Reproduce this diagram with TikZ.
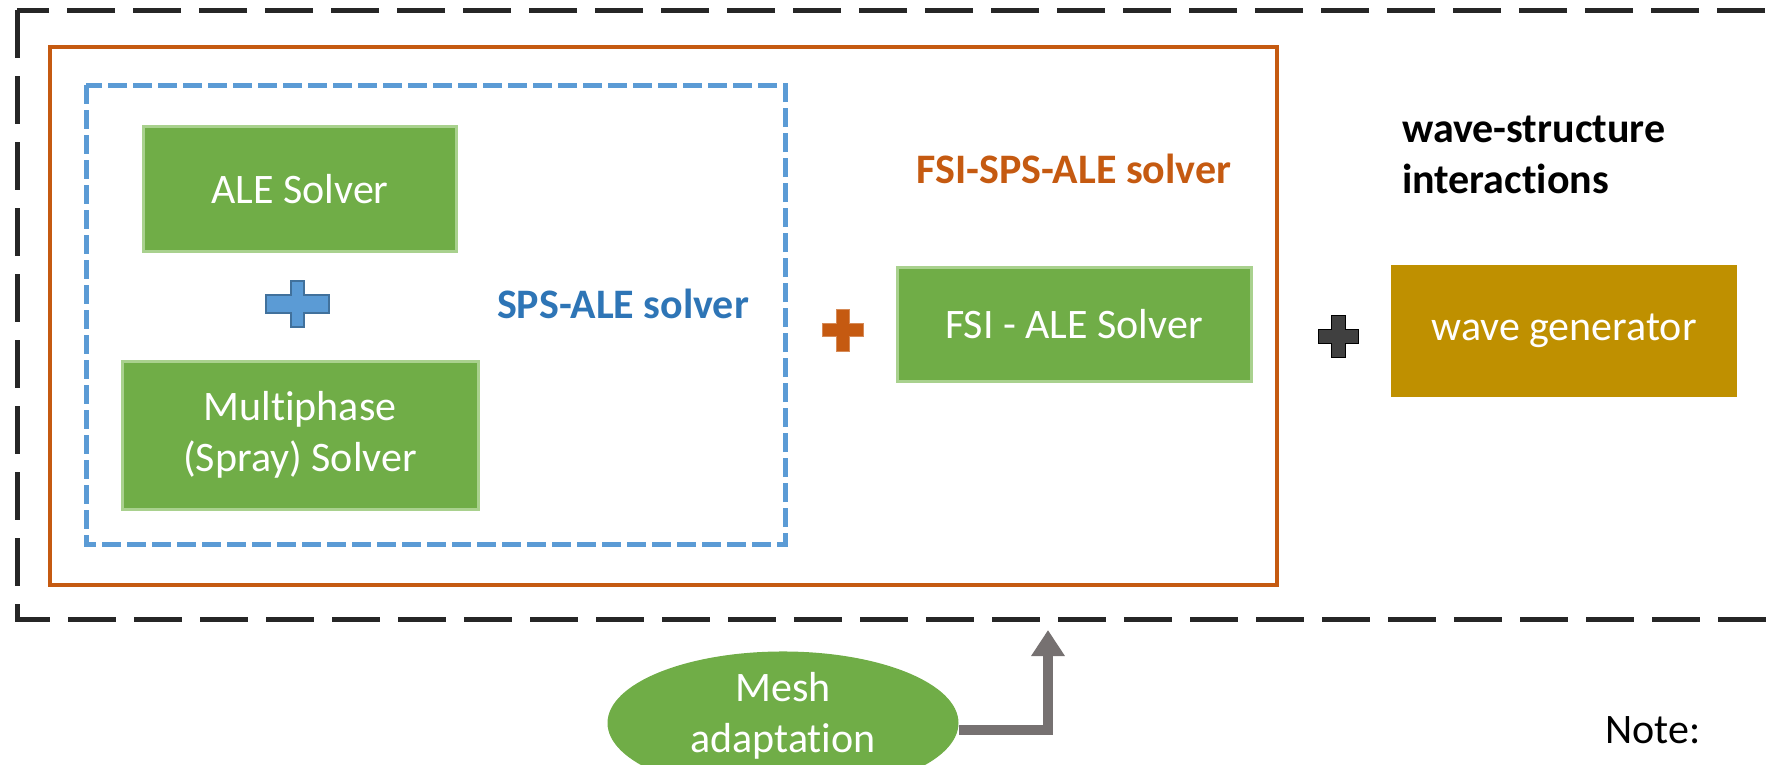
\documentclass[tikz,border=0pt]{standalone}
\usepackage{fontspec}
\setmainfont{Carlito}[Ligatures=NoCommon]
\usepackage{xcolor}
\usetikzlibrary{shapes.geometric,arrows.meta}

\definecolor{solvergreen}{HTML}{70AD47}
\definecolor{solveredge}{HTML}{A9D18E}
\definecolor{spsblue}{HTML}{5B9BD5}
\definecolor{spstext}{HTML}{2E75B6}
\definecolor{spsplusedge}{HTML}{41719C}
\definecolor{fsiorange}{HTML}{C55A11}
\definecolor{wavegold}{HTML}{BF9000}
\definecolor{adaptgray}{HTML}{767171}
\definecolor{plusdark}{HTML}{404040}
\definecolor{framedark}{HTML}{262626}

\newcommand{\labelfont}{\fontsize{42}{51}\selectfont}

% plus sign: style, centre, half width, half height, half bar (vertical), half bar (horizontal)
\newcommand{\plusmark}[6]{%
  \draw[#1, shift={(#2)}] (-#5,#4) -- (#5,#4) -- (#5,#6) -- (#3,#6) -- (#3,-#6)
    -- (#5,-#6) -- (#5,-#4) -- (-#5,-#4) -- (-#5,-#6) -- (-#3,-#6) -- (-#3,#6)
    -- (-#5,#6) -- cycle;}

\begin{document}
\begin{tikzpicture}[x=1pt,y=1pt]
\tikzstyle{every node}+=[inner sep=0pt]
\tikzset{
  solverbox/.style={draw=solveredge, line width=3pt, fill=solvergreen, text=white,
    font=\labelfont, align=center},
  tag/.style={font=\labelfont\bfseries, align=left},
  adaptarrow/.style={draw=adaptgray, line width=10pt,
    -{Triangle[width=32pt,length=26pt]}}
}
\useasboundingbox (0,0) rectangle (1767,-764);
\clip (0,0) rectangle (1767,-764);

% frames
\draw [framedark, line width=5pt, dash pattern=on 48pt off 18pt] (17,-10) rectangle (1800,-619);
\draw [fsiorange, line width=3.5pt] (50,-47) rectangle (1277,-585);
\draw [spsblue, line width=5pt, dash pattern=on 19pt off 6pt] (86,-85) rectangle (785,-544);

% solvers
\node [solverbox, minimum width=313pt, minimum height=125pt] (ale) at (300,-189) {ALE Solver};
\node [solverbox, minimum width=356pt, minimum height=148pt] (multiphase) at (300,-435) {Multiphase\\(Spray) Solver};
\node [solverbox, minimum width=354pt, minimum height=114pt] (fsi) at (1074,-324) {FSI - ALE Solver};
\node [fill=wavegold, text=white, font=\labelfont, minimum width=346pt, minimum height=132pt] (wavegen) at (1564,-331) {wave generator};

% plus signs
\plusmark{fill=spsblue, draw=spsplusedge, line width=2pt}{297,-304}{31.5}{23}{6.5}{9}
\plusmark{fill=fsiorange, draw=fsiorange!70!white, line width=1pt}{843,-330}{20.5}{21}{6.5}{6.5}
\plusmark{fill=plusdark}{1338,-336}{20}{21}{7}{7}

% labels
\node [tag, text=spstext] (spslabel) at (623,-304) {SPS-ALE solver};
\node [tag, text=fsiorange] (fsilabel) at (1074,-169) {FSI-SPS-ALE solver};
\node [tag, anchor=west] (wsilabel) at (1402,-155) {wave-structure\\interactions};
\node [font=\labelfont, anchor=west] (note) at (1605,-730) {Note:};

% mesh adaptation
\node [ellipse, fill=solvergreen, text=white, font=\labelfont, align=center, text depth=21pt,
  minimum width=351pt, minimum height=110pt] (mesh) at (783,-723) {Mesh\\adaptation};
\coordinate (tip) at (1048,-630);
\draw [adaptarrow] ([yshift=-7pt]mesh.east) -| (tip);
\end{tikzpicture}
\end{document}
